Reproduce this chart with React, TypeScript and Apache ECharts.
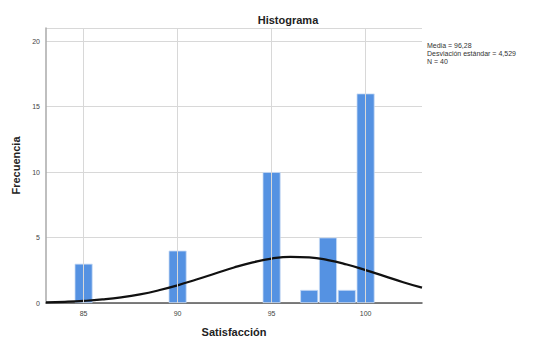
import React, { useEffect, useRef } from "react";
import * as echarts from "echarts";

const binCenters = [85, 90, 95, 97, 98, 99, 100];
const frequencies = [3, 4, 10, 1, 5, 1, 16];
const curveX = [83, 84, 85, 86, 87, 88, 89, 90, 91, 92, 93, 94, 95, 96, 97, 98, 99, 100, 101, 102, 103];
const curveY = [0.05, 0.09, 0.16, 0.27, 0.43, 0.66, 0.97, 1.35, 1.79, 2.25, 2.71, 3.1, 3.39, 3.52, 3.48, 3.28, 2.94, 2.51, 2.05, 1.59, 1.17];
const xTicks = [85, 90, 95, 100];
const yTicks = [0, 5, 10, 15, 20];
const statsLines = ["Media = 96,28", "Desviación estándar = 4,529", "N = 40"];

export default function App() {
  const ref = useRef<HTMLDivElement>(null);
  useEffect(() => {
    if (!ref.current) return;
    const chart = echarts.init(ref.current, null, { renderer: "svg" });
    const font = "Arial, 'Liberation Sans', sans-serif";
    chart.setOption({
      animation: false,
      backgroundColor: "#ffffff",
      title: {
        text: "Histograma",
        left: 283,
        top: 9,
        textAlign: "center",
        textStyle: { fontFamily: font, fontSize: 11, fontWeight: "bold", color: "#222" },
      },
      graphic: [
        {
          type: "text",
          left: 427,
          top: 41,
          style: {
            text: statsLines.join("\n"),
            fontFamily: font,
            fontSize: 7,
            lineHeight: 8,
            fill: "#333",
          },
        },
      ],
      grid: { left: 46, right: 122, top: 28, bottom: 34, containLabel: false, outerBoundsMode: "none" },
      xAxis: {
        type: "value",
        min: 83,
        max: 103,
        interval: 5,
        name: "Satisfacción",
        nameLocation: "middle",
        nameGap: 23,
        nameTextStyle: { fontFamily: font, fontSize: 11, fontWeight: "bold", color: "#222" },
        axisLine: { show: true, lineStyle: { color: "#555", width: 1.5 } },
        axisTick: { show: false },
        axisLabel: {
          fontFamily: font,
          fontSize: 7,
          color: "#444",
          margin: 7,
          customValues: xTicks,
        },
        splitLine: { show: false },
      },
      yAxis: {
        type: "value",
        min: 0,
        max: 21,
        interval: 5,
        name: "Frecuencia",
        nameLocation: "middle",
        nameGap: 19,
        nameRotate: 90,
        nameTextStyle: { fontFamily: font, fontSize: 11, fontWeight: "bold", color: "#222" },
        axisLine: { show: true, lineStyle: { color: "#aaa", width: 1.5 } },
        axisTick: { show: false },
        axisLabel: { fontFamily: font, fontSize: 7, color: "#444", margin: 6, customValues: yTicks },
        splitLine: { show: true, lineStyle: { color: "#d8d8d8", width: 1 } },
      },
      series: [
        {
          type: "line",
          data: xTicks.map((v) => [v, 0]),
          symbol: "none",
          lineStyle: { width: 0 },
          silent: true,
          markLine: {
            silent: true,
            symbol: "none",
            label: { show: false },
            lineStyle: { color: "#d8d8d8", type: "solid", width: 1 },
            data: xTicks.map((v) => ({ xAxis: v })),
          },
          z: 1,
        },
        {
          type: "bar",
          data: binCenters.map((c, i) => [c, frequencies[i]]),
          barWidth: 18,
          itemStyle: { color: "#5592e2", borderColor: "#c9dcf5", borderWidth: 0.8 },
          z: 2,
        },
        {
          type: "line",
          data: curveX.map((x, i) => [x, curveY[i]]),
          smooth: true,
          symbol: "none",
          lineStyle: { color: "#111", width: 2.2 },
          z: 3,
        },
      ],
    });
    return () => chart.dispose();
  }, []);
  return <div ref={ref} style={{ width: 544, height: 337, position: "absolute", left: 0, top: 0 }} />;
}
